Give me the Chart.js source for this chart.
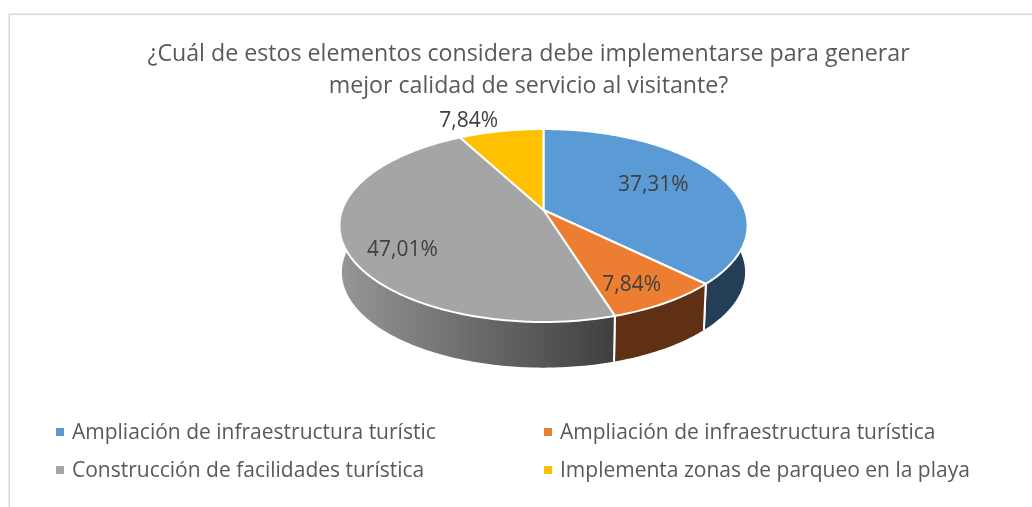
<!DOCTYPE html>
<html><head><meta charset="utf-8">
<style>html,body{margin:0;padding:0;background:#fff}canvas{display:block}</style>
<script src="https://cdn.jsdelivr.net/npm/chart.js@4/dist/chart.umd.min.js"></script>
</head><body><div style="width:1032px;height:507px"><canvas id="c" width="1032" height="507"></canvas></div>
<script>
const categories = ["Ampliación de infraestructura turístic","Ampliación de infraestructura turística","Construcción de facilidades turística","Implementa zonas de parqueo en la playa"];
const values = [37.31,7.84,47.01,7.84];
const valueLabels = ["37,31%","7,84%","47,01%","7,84%"];
const colors = ["#5B9BD5","#ED7D31","#A5A5A5","#FFC000"];
const titleLines = ["¿Cuál de estos elementos considera debe implementarse para generar","mejor calidad de servicio al visitante?"];

const FONT = "'Open Sans'";
const INK = "#595959";
const P = {cx:543.5, ay:210, a:201.4, b:94, k:0.1606, wallDy:47, wallS:0.988};
function topPt(r,t){const u=r*Math.cos(t),v=r*Math.sin(t),d=1-P.k*v;return [P.cx+P.a*u/d,P.ay+P.b*v/d];}
function botPt(t){const u=Math.cos(t),v=Math.sin(t),d=1-P.k*v;return [P.cx+P.wallS*P.a*u/d,P.ay+P.wallDy+P.wallS*P.b*v/d];}

// The library's arcs keep their angles; they are only drawn through a perspective projection.
Chart.ArcElement.prototype.draw = function(ctx){
  const s=this.startAngle,e=this.endAngle,n=Math.max(2,Math.ceil((e-s)/0.015));
  ctx.save();ctx.beginPath();ctx.moveTo(P.cx,P.ay);
  for(let i=0;i<=n;i++){const p=topPt(1,s+(e-s)*i/n);ctx.lineTo(p[0],p[1]);}
  ctx.closePath();
  ctx.fillStyle=this.options.backgroundColor;ctx.fill();
  ctx.strokeStyle="#fff";ctx.lineWidth=2;ctx.lineJoin="round";ctx.stroke();
  ctx.restore();
};

const frame={id:"frame",beforeDraw(ch){const c=ch.ctx;c.save();c.strokeStyle="#D9D9D9";c.lineWidth=1.5;
  c.beginPath();c.moveTo(9.25,507);c.lineTo(9.25,14.25);c.lineTo(1032,14.25);c.stroke();c.restore();}};

const walls={id:"walls",beforeDatasetsDraw(ch){const c=ch.ctx,arcs=ch.getDatasetMeta(0).data;
  const g=c.createLinearGradient(340,0,615,0);g.addColorStop(0,"#969696");g.addColorStop(1,"#3F3F3F");
  const fills=["#233E56","#5F3013",g,"#7F6000"];
  arcs.forEach((arc,i)=>{const s=arc.startAngle,e=arc.endAngle,n=Math.ceil((e-s)/0.015);
    c.save();c.beginPath();
    for(let j=0;j<=n;j++){const p=topPt(1,s+(e-s)*j/n);j?c.lineTo(p[0],p[1]):c.moveTo(p[0],p[1]);}
    for(let j=n;j>=0;j--){const p=botPt(s+(e-s)*j/n);c.lineTo(p[0],p[1]);}
    c.closePath();c.fillStyle=fills[i];c.fill();
    c.strokeStyle="#fff";c.lineWidth=2;
    [s,e].forEach(t=>{const a=topPt(1,t),b=botPt(t);c.beginPath();c.moveTo(a[0],a[1]);c.lineTo(b[0],b[1]);c.stroke();});
    c.restore();});
}};

const sliceLabels={id:"sliceLabels",afterDatasetsDraw(ch){const c=ch.ctx,arcs=ch.getDatasetMeta(0).data;
  const rad=[.62,.75,.75,1.15],nudge=[[-1,-3],[0,8],[5,11],[-27,0]];
  c.save();c.font="21px "+FONT;c.fillStyle="#404040";c.textAlign="center";c.textBaseline="middle";
  arcs.forEach((arc,i)=>{const p=topPt(rad[i],(arc.startAngle+arc.endAngle)/2);
    c.fillText(valueLabels[i],p[0]+nudge[i][0],p[1]+nudge[i][1]);});
  c.restore();
}};

const legendGrid={id:"legendGrid",afterDraw(ch){const c=ch.ctx;
  const cols=[[56,72],[544,560]],rows=[432,470];
  c.save();c.font="21px "+FONT;c.textBaseline="middle";c.textAlign="left";
  ch.data.labels.forEach((t,i)=>{const col=cols[i%2],y=rows[i>>1];
    c.fillStyle=ch.data.datasets[0].backgroundColor[i];c.fillRect(col[0],y-4,8,8);
    c.fillStyle=INK;c.fillText(t,col[1],y+1);});
  c.restore();
}};

new Chart(document.getElementById("c"),{
  type:"pie",
  data:{labels:categories,datasets:[{data:values,backgroundColor:colors,borderWidth:0}]},
  options:{responsive:false,animation:false,
    layout:{padding:{top:38,left:25,right:0,bottom:0}},
    plugins:{legend:{display:false},tooltip:{enabled:false},
      title:{display:true,text:titleLines,color:INK,font:{family:"'Open Sans'",size:23.2,weight:"normal",lineHeight:1.38},padding:0}}},
  plugins:[frame,walls,sliceLabels,legendGrid]
});
</script></body></html>
